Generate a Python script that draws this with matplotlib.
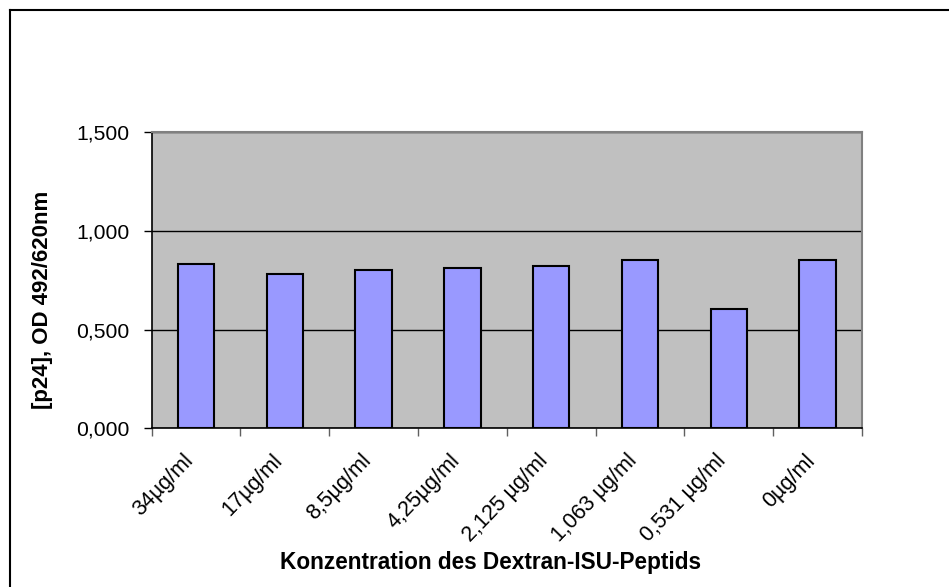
import matplotlib
matplotlib.use("Agg")
import matplotlib.pyplot as plt
from matplotlib.lines import Line2D
from matplotlib.ticker import FixedLocator, FuncFormatter
from matplotlib.transforms import ScaledTranslation
import numpy as np

categories = ["34µg/ml", "17µg/ml", "8,5µg/ml", "4,25µg/ml", "2,125 µg/ml",
              "1,063 µg/ml", "0,531 µg/ml", "0µg/ml"]
values = [0.831, 0.780, 0.800, 0.811, 0.821, 0.851, 0.606, 0.851]
y_ticks = [0.0, 0.5, 1.0, 1.5]
y_label = "[p24], OD 492/620nm"
x_label = "Konzentration des Dextran-ISU-Peptids"

plt.rcParams['font.family'] = ['Liberation Sans', 'DejaVu Sans']

W, H = 949, 587
fig = plt.figure(figsize=(W / 100, H / 100), dpi=100)
fig.patch.set_facecolor('white')

left, right, top, bottom = 151.7, 862.0, 132.0, 428.3
ax = fig.add_axes([left / W, 1 - bottom / H, (right - left) / W, (bottom - top) / H])
ax.set_facecolor('#C0C0C0')

x = np.arange(len(categories))
ax.bar(x, values, width=0.41, color='#9999FF', edgecolor='black', linewidth=1.5, zorder=3)

ax.set_xlim(-0.5, len(categories) - 0.5)
ax.set_ylim(0, 1.5)
ax.set_yticks(y_ticks)
ax.yaxis.set_major_formatter(FuncFormatter(lambda v, p: f"{v:.3f}".replace('.', ',')))
ax.grid(axis='y', color='black', linewidth=1.0, zorder=1)
ax.set_axisbelow(True)

ax.set_xticks(x)
ax.set_xticklabels(categories, rotation=46, ha='right', va='center', rotation_mode='anchor')
ax.xaxis.set_minor_locator(FixedLocator(np.arange(-0.5, len(categories), 1.0)))
ax.tick_params(axis='x', which='major', length=0, pad=21, labelsize=15.5)
ax.tick_params(axis='x', which='minor', length=6, width=1.0, direction='out', color='#606060')
ax.tick_params(axis='y', which='major', length=6, width=1.0, direction='out', pad=10, labelsize=15.2)
shift = ScaledTranslation(-6 / 100, 0, fig.dpi_scale_trans)
for lab in ax.get_xticklabels():
    lab.set_transform(lab.get_transform() + shift)

for s in ['top', 'right']:
    ax.spines[s].set_color('#808080')
    ax.spines[s].set_linewidth(1.5)
for s in ['left', 'bottom']:
    ax.spines[s].set_color('black')
    ax.spines[s].set_linewidth(1.2)

fig.text(43 / W, 1 - 300 / H, y_label, rotation=90, ha='center', va='center',
         fontsize=16, fontweight='bold')
fig.text(490 / W, 1 - 563 / H, x_label, ha='center', va='center',
         fontsize=16.3, fontweight='bold')

# outer chart frame
fig.add_artist(Line2D([10 / W, 10 / W], [0, 1 - 10 / H], transform=fig.transFigure,
                      color='black', linewidth=1.5))
fig.add_artist(Line2D([10 / W, 1], [1 - 10 / H, 1 - 10 / H], transform=fig.transFigure,
                      color='black', linewidth=1.5))

fig.savefig('out.png', dpi=100, facecolor='white')
